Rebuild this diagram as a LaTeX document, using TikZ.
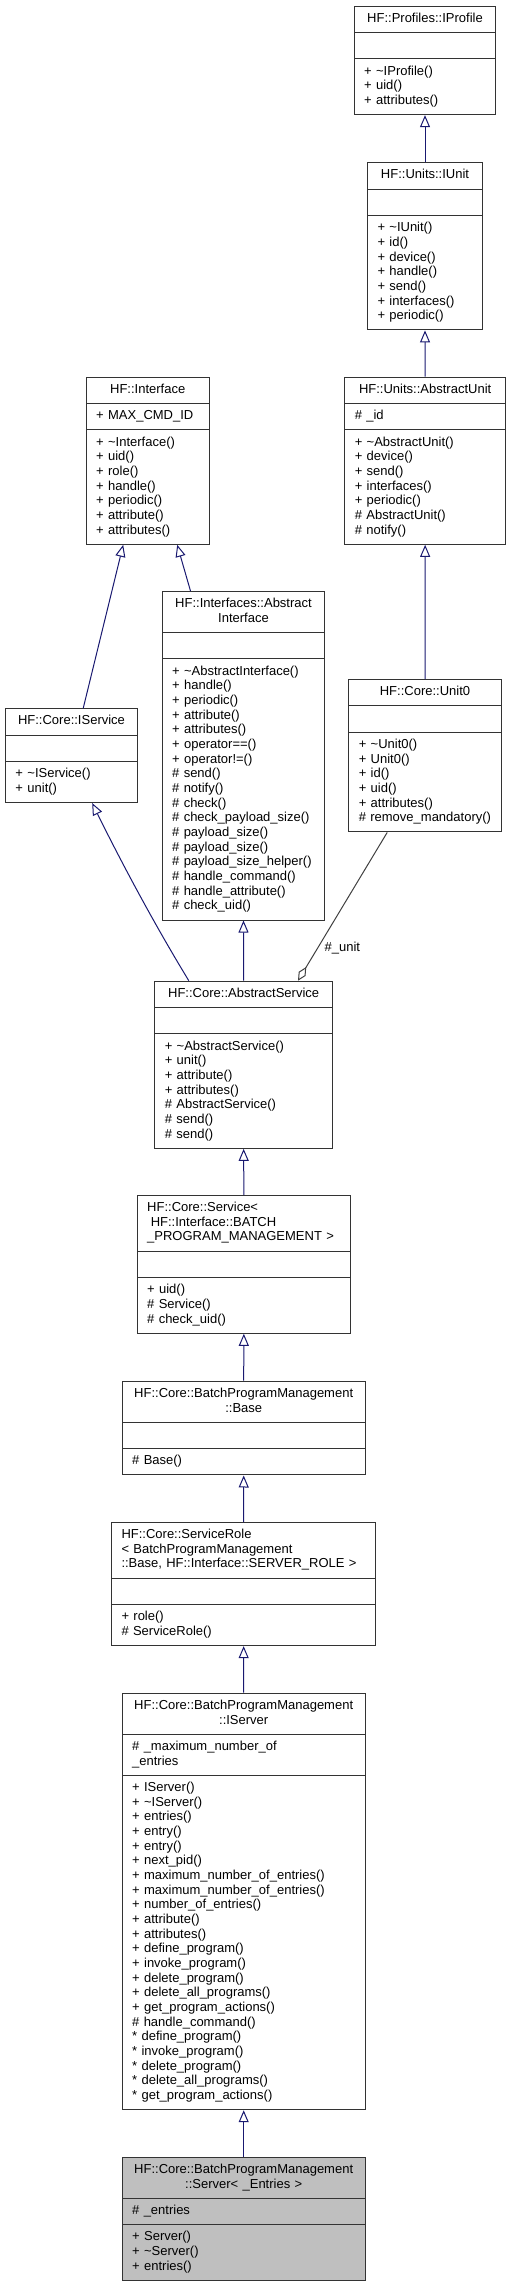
\documentclass[tikz,border=0pt]{standalone}
\usepackage{fontspec}
\setmainfont{Liberation Sans}
\usetikzlibrary{shapes.multipart,arrows.meta}

\setlength{\parindent}{0pt}
\hyphenpenalty=10000
\exhyphenpenalty=10000
\newcommand{\classfont}{\fontsize{13pt}{14.67pt}\selectfont}
\newcommand{\dt}{\textasciitilde}
\newcommand{\ctitle}[1]{\parbox{\hsize}{\centering\strut #1\strut}}
\definecolor{edgeblue}{HTML}{191970}
\definecolor{edgegray}{HTML}{404040}
\definecolor{hilite}{HTML}{BFBFBF}

\tikzset{
  classbox/.style={rectangle split, rectangle split parts=3, draw=black!80, line width=1pt, fill=white,
    anchor=north west, inner xsep=10pt, inner ysep=5.35pt, align=left, font=\classfont},
  inherit/.style={edgeblue, line width=1pt, -{Triangle[length=12pt,width=10pt,fill=white]}},
  member/.style={edgegray, line width=1pt, -{Diamond[length=16pt,width=8pt,fill=white]}}
}

\begin{document}
\begin{tikzpicture}[x=1pt,y=-1pt]
      \useasboundingbox (0,0) rectangle (510,2283);

      % profile / unit column
      \node[classbox, text width=121.6pt] (iprofile) at (353.7,5.7)
        {\ctitle{HF::Profiles::IProfile}
         \nodepart{second}\strut
         \nodepart{third}\strut + \dt IProfile()\\+ uid()\\+ attributes()\strut};
      \node[classbox, text width=95pt] (iunit) at (367,162.3)
        {\ctitle{HF::Units::IUnit}
         \nodepart{second}\strut
         \nodepart{third}\strut + \dt IUnit()\\+ id()\\+ device()\\+ handle()\\+ send()\\+ interfaces()\\+ periodic()\strut};
      \node[classbox, text width=140.7pt] (abstractunit) at (344.3,376.7)
        {\ctitle{HF::Units::AbstractUnit}
         \nodepart{second}\strut \# \_id\strut
         \nodepart{third}\strut + \dt AbstractUnit()\\+ device()\\+ send()\\+ interfaces()\\+ periodic()\\\# AbstractUnit()\\\# notify()\strut};
      \node[classbox, text width=132.4pt] (unit0) at (348.3,679)
        {\ctitle{HF::Core::Unit0}
         \nodepart{second}\strut
         \nodepart{third}\strut + \dt Unit0()\\+ Unit0()\\+ id()\\+ uid()\\+ attributes()\\\# remove\_mandatory()\strut};

      % interface column
      \node[classbox, text width=103pt] (interface) at (85.7,376.7)
        {\ctitle{HF::Interface}
         \nodepart{second}\strut + MAX\_CMD\_ID\strut
         \nodepart{third}\strut + \dt Interface()\\+ uid()\\+ role()\\+ handle()\\+ periodic()\\+ attribute()\\+ attributes()\strut};
      \node[classbox, text width=112pt] (iservice) at (5,708.3)
        {\ctitle{HF::Core::IService}
         \nodepart{second}\strut
         \nodepart{third}\strut + \dt IService()\\+ unit()\strut};
      \node[classbox, text width=142.6pt] (abstractinterface) at (161.7,591)
        {\ctitle{HF::Interfaces::Abstract\\Interface}
         \nodepart{second}\strut
         \nodepart{third}\strut + \dt AbstractInterface()\\+ handle()\\+ periodic()\\+ attribute()\\+ attributes()\\+ operator==()\\+ operator!=()\\\# send()\\\# notify()\\\# check()\\\# check\_payload\_size()\\\# payload\_size()\\\# payload\_size()\\\# payload\_size\_helper()\\\# handle\_command()\\\# handle\_attribute()\\\# check\_uid()\strut};

      % service chain
      \node[classbox, text width=157.7pt] (abstractservice) at (154.3,980.7)
        {\ctitle{HF::Core::AbstractService}
         \nodepart{second}\strut
         \nodepart{third}\strut + \dt AbstractService()\\+ unit()\\+ attribute()\\+ attributes()\\\# AbstractService()\\\# send()\\\# send()\strut};
      \node[classbox, text width=193.3pt] (service) at (136.7,1195)
        {\strut HF::Core::Service<\\\hspace*{3.6pt}HF::Interface::BATCH\\\_PROGRAM\_MANAGEMENT~>\strut
         \nodepart{second}\strut
         \nodepart{third}\strut + uid()\\\# Service()\\\# check\_uid()\strut};
      \node[classbox, text width=223pt] (base) at (121.7,1380.7)
        {\ctitle{HF::Core::BatchProgramManagement\\::Base}
         \nodepart{second}\strut
         \nodepart{third}\strut \# Base()\strut};
      \node[classbox, text width=244.3pt] (servicerole) at (111,1522)
        {\strut HF::Core::ServiceRole\\<~BatchProgramManagement\\::Base,~HF::Interface::SERVER\_ROLE~>\strut
         \nodepart{second}\strut
         \nodepart{third}\strut + role()\\\# ServiceRole()\strut};
      \node[classbox, text width=223pt] (iserver) at (121.7,1692.7)
        {\ctitle{HF::Core::BatchProgramManagement\\::IServer}
         \nodepart{second}\strut \# \_maximum\_number\_of\\\_entries\strut
         \nodepart{third}\strut + IServer()\\+ \dt IServer()\\+ entries()\\+ entry()\\+ entry()\\+ next\_pid()\\+ maximum\_number\_of\_entries()\\+ maximum\_number\_of\_entries()\\+ number\_of\_entries()\\+ attribute()\\+ attributes()\\+ define\_program()\\+ invoke\_program()\\+ delete\_program()\\+ delete\_all\_programs()\\+ get\_program\_actions()\\\# handle\_command()\\{}* define\_program()\\{}* invoke\_program()\\{}* delete\_program()\\{}* delete\_all\_programs()\\{}* get\_program\_actions()\strut};
      \node[classbox, fill=hilite, text width=223pt] (server) at (121.7,2156.7)
        {\ctitle{HF::Core::BatchProgramManagement\\::Server<~\_Entries~>}
         \nodepart{second}\strut \# \_entries\strut
         \nodepart{third}\strut + Server()\\+ \dt Server()\\+ entries()\strut};

      % inheritance
      \draw[inherit] (iunit.north) -- (iprofile.south);
      \draw[inherit] (abstractunit.north) -- (iunit.south);
      \draw[inherit] (unit0.north) -- (abstractunit.south);
      \draw[inherit] ([xshift=11.7pt]iservice.north) -- ([xshift=-24.5pt]interface.south);
      \draw[inherit] ([xshift=-53pt]abstractinterface.north) -- ([xshift=29.5pt]interface.south);
      \draw[inherit] ([xshift=-54.85pt]abstractservice.north) .. controls (152.3,920.7) and (119.7,859) .. ([xshift=20.7pt]iservice.south);
      \draw[inherit] (abstractservice.north) -- (abstractinterface.south);
      \draw[inherit] (service.north) -- (abstractservice.south);
      \draw[inherit] (base.north) -- (service.south);
      \draw[inherit] (servicerole.north) -- (base.south);
      \draw[inherit] (iserver.north) -- (servicerole.south);
      \draw[inherit] (server.north) -- (iserver.south);

      % usage
      \draw[member] ([xshift=-37.8pt]unit0.south) -- ([xshift=54.35pt]abstractservice.north);
      \node[font=\classfont] (unitlabel) at (342.3,947.7) {\#\_unit};

\end{tikzpicture}
\end{document}
